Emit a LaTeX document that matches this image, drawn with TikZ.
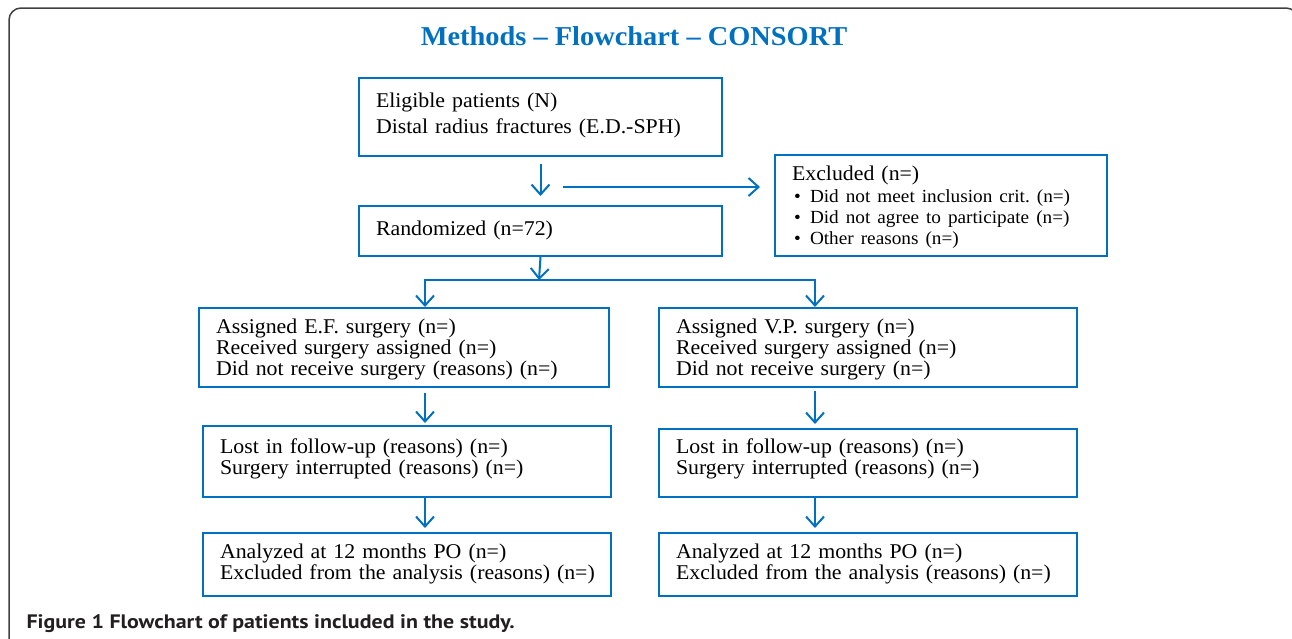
\documentclass[tikz,border=0pt]{standalone}
\usepackage{fontspec}
\setmainfont{Liberation Serif}[FakeStretch=1.04]
\newfontfamily\capfont{PT Sans}[FakeStretch=1.125]
\usetikzlibrary{arrows.meta}
\definecolor{cblue}{HTML}{0070C0}
\definecolor{framegray}{HTML}{404040}
\definecolor{captext}{HTML}{231F20}
\tikzset{
  box/.style={draw=cblue, line width=2pt, anchor=north west, align=left,
    inner xsep=17pt, inner ysep=0pt, font=\fontsize{21}{21}\selectfont\frenchspacing},
  arr/.style={draw=cblue, line width=2pt,
    -{Straight Barb[length=10pt,width=18pt,line width=2pt]}},
  ln/.style={draw=cblue, line width=2pt},
}
\newcommand{\bitem}[1]{\makebox[18pt][l]{\hspace{2pt}\textbullet}#1}
\newcommand{\rows}[2][0pt]{\raisebox{-#1}[\height][\depth]{\begin{tabular}{@{}l@{}}#2\end{tabular}}}
\begin{document}
\begin{tikzpicture}[x=1pt,y=-1pt]
\useasboundingbox (0,0) rectangle (1292,638);
\begin{scope}
\clip (0,0) rectangle (1292,638);
\draw[framegray, line width=1.5pt, rounded corners=12pt] (9,8) rectangle (1298,670);
\end{scope}

\node[font=\bfseries\fontsize{27.3}{27}\selectfont, text=cblue] (title) at (634,36)
  {Methods – Flowchart – CONSORT};

\node[box, minimum height=78pt, text width=329pt] (elig) at (358,77)
  {\rows[1pt]{Eligible patients (N)\\[5pt]Distal radius fractures (E.D.-SPH)\\[4pt]}};
\node[box, minimum height=50pt, text width=329pt] (rand) at (358,205)
  {\rows[2pt]{Randomized (n=72)\\[3pt]}};
\node[box, minimum height=101pt, text width=298pt] (excl) at (774,154)
  {\rows[2.5pt]{Excluded (n=)\\[1pt]
   {\fontsize{18.5}{21}\selectfont\bitem{Did not meet inclusion crit. (n=)}}\\
   {\fontsize{18.5}{21}\selectfont\bitem{Did not agree to participate (n=)}}\\
   {\fontsize{18.5}{21}\selectfont\bitem{Other reasons (n=)}}}};

\node[box, minimum height=79pt, text width=376pt] (ef) at (198,307)
  {\rows[3pt]{Assigned E.F. surgery (n=)\\Received surgery assigned (n=)\\Did not receive surgery (reasons) (n=)}};
\node[box, minimum height=79pt, text width=384pt] (vp) at (658,307)
  {\rows[3pt]{Assigned V.P. surgery (n=)\\Received surgery assigned (n=)\\Did not receive surgery (n=)}};

\node[box, minimum height=71pt, text width=374pt] (lostl) at (202,425)
  {\rows[3pt]{Lost in follow-up (reasons) (n=)\\Surgery interrupted (reasons) (n=)\\[10pt]}};
\node[box, minimum height=68pt, text width=384pt] (lostr) at (658,428)
  {\rows[1pt]{Lost in follow-up (reasons) (n=)\\Surgery interrupted (reasons) (n=)\\[8pt]}};

\node[box, minimum height=63pt, text width=374pt] (anl) at (202,532)
  {\rows[2pt]{Analyzed at 12 months PO (n=)\\Excluded from the analysis (reasons) (n=)\\[3pt]}};
\node[box, minimum height=63pt, text width=384pt] (anr) at (658,532)
  {\rows[2pt]{Analyzed at 12 months PO (n=)\\Excluded from the analysis (reasons) (n=)\\[3pt]}};

\node[anchor=west, font=\capfont\bfseries\fontsize{19.5}{19.5}\selectfont, text=captext] (cap) at (23,624)
  {Figure 1 Flowchart of patients included in the study.};

% connectors
\draw[arr, shorten <=7pt, shorten >=9pt] (elig.south) -- (rand.north);
\coordinate (ea) at (563,187);
\draw[arr, shorten >=14pt] (ea) -- (ea -| excl.west);
\coordinate (sp) at (539,280);
\coordinate (bl) at (425,280);
\coordinate (br) at (815,280);
\draw[arr] (rand.south) -- (sp);
\draw[ln, line cap=rect] (bl) -- (br);
\draw[arr] (bl) -- (bl |- ef.north);
\draw[arr] (br) -- (br |- vp.north);
\draw[arr, shorten <=5pt, shorten >=2pt] (bl |- ef.south) -- (bl |- lostl.north);
\draw[arr, shorten <=3pt, shorten >=4pt] (br |- vp.south) -- (br |- lostr.north);
\draw[arr, shorten >=4pt] (bl |- lostl.south) -- (bl |- anl.north);
\draw[arr, shorten >=4pt] (br |- lostr.south) -- (br |- anr.north);
\end{tikzpicture}
\end{document}
